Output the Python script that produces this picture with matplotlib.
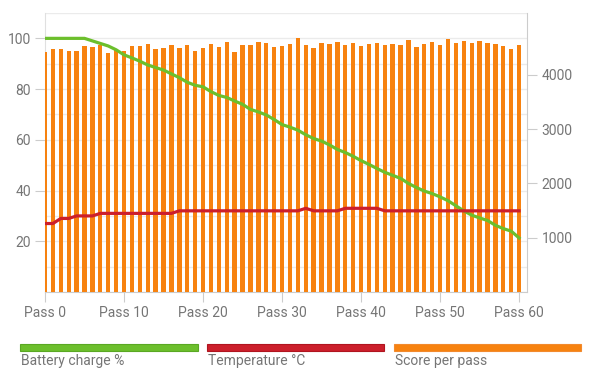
import matplotlib
matplotlib.use("Agg")
import matplotlib.pyplot as plt
from matplotlib.patches import Rectangle
import numpy as np

plt.rcParams['font.family'] = ['Roboto', 'DejaVu Sans']

passes = list(range(61))
tick_passes = [0, 10, 20, 30, 40, 50, 60]
tick_labels = [f"Pass {p}" for p in tick_passes]

battery = [100, 100, 100, 100, 100, 100, 99, 98, 97, 95.5,
           93.5, 92.3, 91, 89.5, 88.5, 87.5, 86, 84.5, 82.7, 81.5,
           80.9, 79, 77.5, 76.7, 75.3, 74, 72, 71, 69.8, 68,
           66, 65, 63.8, 62, 60.5, 59.5, 58, 56.2, 55, 53.5,
           51.8, 50.3, 48.7, 47.2, 46, 44.8, 42.8, 41.2, 39.8, 38.8,
           37.5, 36, 34, 32, 30.3, 29.2, 28.2, 26.3, 25, 24, 21.3]

temperature = [27, 27, 29, 29, 30, 30, 30, 31, 31, 31,
               31, 31, 31, 31, 31, 31, 31, 32, 32, 32,
               32, 32, 32, 32, 32, 32, 32, 32, 32, 32,
               32, 32, 32, 33, 32, 32, 32, 32, 33, 33,
               33, 33, 33, 32, 32, 32, 32, 32, 32, 32,
               32, 32, 32, 32, 32, 32, 32, 32, 32, 32, 32]

score = [4431, 4480, 4480, 4450, 4437, 4529, 4510, 4554, 4407, 4462,
         4437, 4536, 4536, 4572, 4480, 4499, 4554, 4499, 4554, 4450,
         4499, 4566, 4510, 4615, 4418, 4547, 4547, 4602, 4584, 4510,
         4541, 4572, 4675, 4560, 4492, 4584, 4572, 4615, 4560, 4590,
         4536, 4572, 4584, 4547, 4572, 4547, 4639, 4517, 4566, 4602,
         4554, 4657, 4584, 4633, 4584, 4620, 4590, 4572, 4529, 4486, 4547]

series_names = ["Battery charge %", "Temperature °C", "Score per pass"]
GREEN = "#6cbf2c"
RED = "#cc1f2b"
ORANGE = "#f7820f"
TXT = "#757575"
GRID = "#ebebeb"
AXIS = "#cccccc"
FS = 10

fig = plt.figure(figsize=(6, 3.78), dpi=100)
pos = [45/600, 1-292/378, (527-45)/600, (292-13)/378]

ax = fig.add_axes(pos, zorder=0)
ax.set_xlim(0, 61)
ax.set_ylim(0, 110)
ax.set_yticks([20, 40, 60, 80, 100])
ax.set_yticks(np.arange(0, 111, 10), minor=True)
ax.grid(True, which='both', axis='y', color=GRID, linewidth=1)
ax.set_axisbelow(True)
ax.set_xticks(tick_passes)
ax.set_xticklabels(tick_labels)
ax.tick_params(axis='y', which='major', length=7.5, color=AXIS, labelcolor=TXT, labelsize=FS, pad=2.5)
ax.tick_params(axis='y', which='minor', length=0)
ax.tick_params(axis='x', length=7.5, color=AXIS, labelcolor=TXT, labelsize=FS, pad=2.5)
for s in ['top', 'right']:
    ax.spines[s].set_visible(False)
ax.spines['left'].set_color("#e0e0e0")
ax.spines['bottom'].set_color(AXIS)

ax2 = ax.twinx()
ax2.set_zorder(1)
ax2.patch.set_visible(False)
ax2.bar(passes, score, width=0.55, color=ORANGE, edgecolor="none")
ax2.set_ylim(0, max(score) * 1.1)
ax2.set_yticks([1000, 2000, 3000, 4000])
ax2.tick_params(axis='y', length=7.5, color=AXIS, labelcolor=TXT, labelsize=FS, pad=3)
for s in ['top', 'left', 'bottom']:
    ax2.spines[s].set_visible(False)
ax2.spines['right'].set_color(AXIS)

ax3 = ax.twinx()
ax3.set_zorder(2)
ax3.patch.set_visible(False)
ax3.set_ylim(0, 110)
ax3.plot(passes, battery, color=GREEN, linewidth=2.3, solid_joinstyle='round')
ax3.plot(passes, temperature, color=RED, linewidth=2.3, solid_joinstyle='round')
ax3.set_yticks([])
for s in ax3.spines.values():
    s.set_visible(False)
ax3.set_xlim(0, 61)

# legend
leg = [(20, 198, GREEN, "#5aa823"), (207, 384, RED, "#b0151f"), (394, 581, ORANGE, "#f28a2e")]
for (x0, x1, fc, ec), name in zip(leg, series_names):
    fig.patches.append(Rectangle((x0/600, 1-351/378), (x1-x0)/600, 7/378,
                                 transform=fig.transFigure, facecolor=fc,
                                 edgecolor=ec, linewidth=0.8))
    fig.text((x0+1)/600, 1-361/378, name, color=TXT, fontsize=FS, va='center', ha='left')

fig.savefig("out.png", dpi=100)
